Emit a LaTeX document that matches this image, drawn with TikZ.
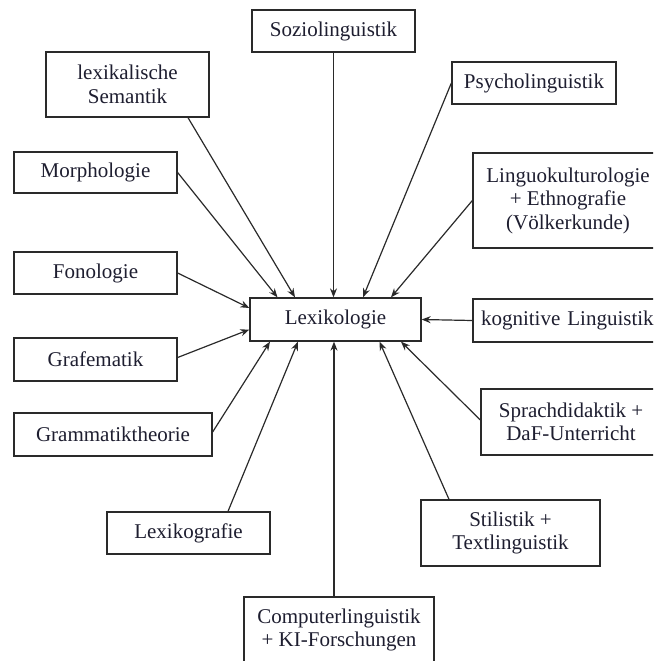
\documentclass[tikz,border=0pt]{standalone}
\usepackage{fontspec}
\setmainfont{Liberation Serif}
\usetikzlibrary{arrows.meta}
\definecolor{txt}{HTML}{1E1E30}
\definecolor{ln}{HTML}{2A2A2A}
\begin{document}
\begin{tikzpicture}[x=1pt,y=-1pt,
  box/.style={draw=ln,line width=1.3pt,fill=white,align=center,inner sep=0pt,
    font=\fontsize{21}{23.5}\selectfont,text=txt},
  arr/.style={draw=ln,line width=1.2pt,-{Stealth[length=9pt,width=7pt]}}]
\useasboundingbox (0,0) rectangle (653,661);
\clip (0,0) rectangle (653,661);
\node[box,minimum width=171pt,minimum height=43pt] (lex) at (335.5,319.5) {Lexikologie};
\node[box,minimum width=163pt,minimum height=42pt] (soz) at (333.5,31) {Soziolinguistik};
\node[box,minimum width=163pt,minimum height=65pt] (lexsem) at (127.5,84.5) {lexikalische\\Semantik};
\node[box,minimum width=163pt,minimum height=41pt] (morph) at (95.5,172.5) {Morphologie};
\node[box,minimum width=163pt,minimum height=42pt] (fon) at (95.5,273) {Fonologie};
\node[box,minimum width=163pt,minimum height=43pt] (graf) at (95.5,359.5) {Grafematik};
\node[box,minimum width=198pt,minimum height=43pt] (gram) at (113,434.5) {Grammatiktheorie};
\node[box,minimum width=163pt,minimum height=42pt] (lexgr) at (188.5,533) {Lexikografie};
\node[box,minimum width=190pt,minimum height=66pt] (comp) at (339,630) {Computerlinguistik\\+ KI-Forschungen};
\node[box,minimum width=179pt,minimum height=66pt] (stil) at (510.5,533) {Stilistik +\\Textlinguistik};
\node[box,minimum width=180pt,minimum height=66pt] (sprach) at (571,422) {Sprachdidaktik +\\DaF-Unterricht};
\node[box,minimum width=198pt,minimum height=43pt,text width=182pt,align=left] (kog) at (572,320.5) {kognitive Linguistik};
\node[box,minimum width=190pt,minimum height=95pt] (ling) at (568,200.5) {Linguokulturologie\\+ Ethnografie\\(Völkerkunde)};
\node[box,minimum width=164pt,minimum height=42pt] (psy) at (534,83) {Psycholinguistik};

\draw[arr] (soz.south) -- (soz.south |- lex.north);
\draw[arr] ([xshift=60.5pt]lexsem.south) -- ([xshift=-40.5pt]lex.north);
\draw[arr] (morph.east) -- ([xshift=-58pt]lex.north);
\draw[arr] (fon.east) -- ([yshift=11.5pt]lex.west);
\draw[arr] ([yshift=2pt]graf.east) -- ([yshift=-10pt]lex.west);
\draw[arr] ([yshift=2.5pt]gram.east) -- ([xshift=-65.5pt]lex.south);
\draw[arr] ([xshift=39.5pt]lexgr.north) -- ([xshift=-37.5pt]lex.south);
\draw[arr] ([xshift=-5pt]comp.north) -- ([xshift=-5pt]comp.north |- lex.south);
\draw[arr] ([xshift=-61.5pt]stil.north) -- ([xshift=44pt]lex.south);
\draw[arr] ([yshift=2pt]sprach.west) -- ([xshift=65.5pt]lex.south);
\draw[arr] (kog.west) -- (lex.east);
\draw[arr] (ling.west) -- ([xshift=55.5pt]lex.north);
\draw[arr] (psy.west) -- ([xshift=27.5pt]lex.north);
\end{tikzpicture}
\end{document}
